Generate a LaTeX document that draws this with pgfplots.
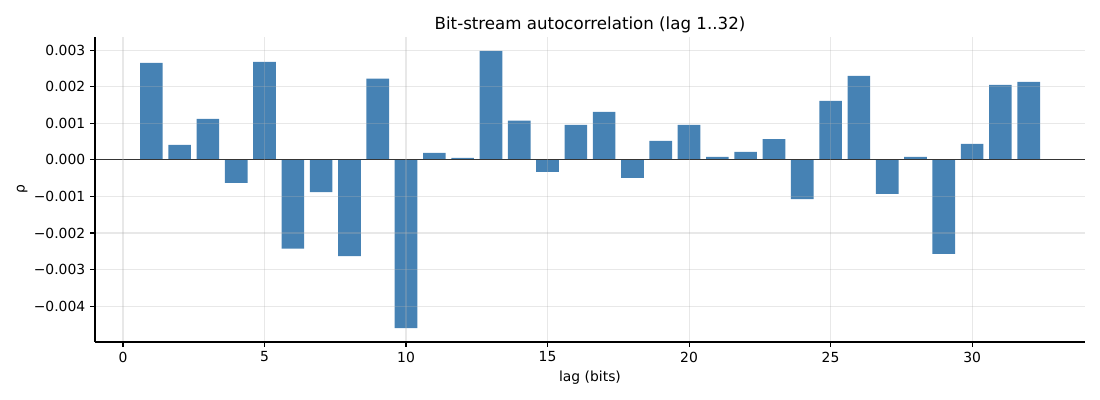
\documentclass[border=0pt]{standalone}
\usepackage{pgfplots}
\pgfplotsset{compat=1.18}
\usepackage{fontspec}
\setmainfont{DejaVu Sans}
\definecolor{steel}{HTML}{4682B4}
\begin{document}
\begin{tikzpicture}
\begin{axis}[
  at={(0,0)}, anchor=south west,
  scale only axis, width=712.8pt, height=219.6pt,
  xmin=-0.99, xmax=33.99, ymin=-0.00498, ymax=0.00336,
  axis x line*=bottom, axis y line*=left,
  axis line style={-, line width=0.8pt, black},
  tick align=outside, major tick length=3.5pt,
  tick style={line width=0.8pt, black},
  xtick={0,5,10,15,20,25,30},
  xticklabels={0,5,10,15,20,25,30},
  ytick={-0.004,-0.003,-0.002,-0.001,0,0.001,0.002,0.003},
  yticklabels={−0.004,−0.003,−0.002,−0.001,0.000,0.001,0.002,0.003},
  scaled y ticks=false,
  /pgf/number format/assume math mode=true,
  tick label style={font=\fontsize{10}{12}\selectfont},
  grid=major,
  major grid style={line width=0.8pt, color=gray!60, opacity=0.3},
  axis on top,
  title={Bit-stream autocorrelation (lag 1..32)},
  title style={font=\fontsize{12}{14}\selectfont, at={(axis description cs:0.5,1)}, anchor=south, yshift=-6.8pt},
  xlabel={lag (bits)},
  xlabel style={font=\fontsize{10}{12}\selectfont, at={(axis description cs:0.5,0)}, anchor=center, yshift=-25.5pt},
  ylabel={ρ},
  ylabel style={font=\fontsize{10}{12}\selectfont, at={(axis description cs:0,0.5)}, anchor=center, rotate=0, yshift=52.5pt},
]
\addplot[ybar, bar width=0.8, bar shift=0pt, fill=steel, draw=none] coordinates {
(1,0.002653) (2,0.00041) (3,0.00112) (4,-0.00063) (5,0.00268)
(6,-0.00243) (7,-0.00088) (8,-0.00263) (9,0.00222) (10,-0.00460)
(11,0.00019) (12,0.000055) (13,0.00298) (14,0.00107) (15,-0.00033)
(16,0.00096) (17,0.00131) (18,-0.00049) (19,0.00052) (20,0.00096)
(21,0.00008) (22,0.00022) (23,0.00057) (24,-0.00107) (25,0.00161)
(26,0.00230) (27,-0.00093) (28,0.00008) (29,-0.00257) (30,0.00044)
(31,0.00205) (32,0.00213)
};
\addplot[black, line width=0.8pt] coordinates {(-0.99,0) (33.99,0)};
\end{axis}
\pgfresetboundingbox
\path (-68.4pt,-41.76pt) rectangle (723.6pt,246.24pt);
\end{tikzpicture}
\end{document}
